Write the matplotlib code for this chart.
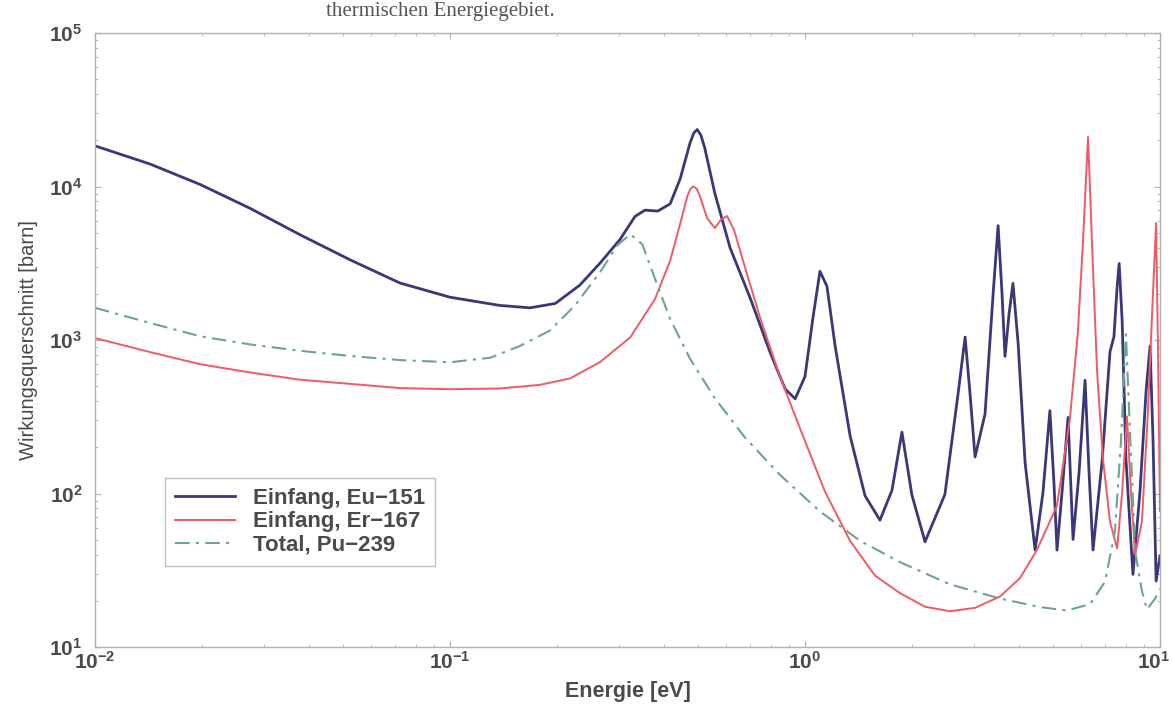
import matplotlib
matplotlib.use("Agg")
import matplotlib.pyplot as plt
from matplotlib.transforms import offset_copy

# Eu-151 capture cross section (barn) vs neutron energy (eV)
eu_energy = [0.0100, 0.0143, 0.0198, 0.0274, 0.0378, 0.0523, 0.0723, 0.100, 0.138, 0.168,
             0.198, 0.232, 0.265, 0.301, 0.332, 0.354, 0.385, 0.417, 0.445, 0.474,
             0.486, 0.497, 0.509, 0.522, 0.557, 0.615, 0.700, 0.797, 0.879, 0.938,
             1.000, 1.054, 1.102, 1.153, 1.216, 1.340, 1.476, 1.626, 1.758, 1.875,
             2.000, 2.178, 2.478, 2.698, 2.825, 2.917, 3.013, 3.215, 3.388, 3.499,
             3.589, 3.659, 3.758, 3.853, 3.984, 4.169, 4.448, 4.680, 4.896, 5.027,
             5.127, 5.297, 5.508, 5.689, 5.916, 6.150, 6.310, 6.476, 6.867, 7.230,
             7.417, 7.573, 7.673, 7.825, 8.017, 8.390, 8.782, 9.136, 9.375, 9.560,
             9.750, 10.0]
eu_sigma = [18400, 14000, 10300, 7190, 4850, 3330, 2350, 1900, 1680, 1620,
            1730, 2275, 3180, 4510, 6380, 7010, 6920, 7710, 11200, 19100,
            22300, 23500, 21600, 17800, 9060, 3990, 1890, 834, 480, 414,
            578, 1420, 2800, 2240, 912, 237, 96.8, 67, 105, 251,
            98, 48.5, 98.6, 444, 1045, 445, 173, 330, 2005, 5560,
            2010, 782, 1490, 2340, 953, 158, 42.8, 101, 346, 117,
            42.8, 102, 313, 50.2, 137, 547, 138, 42.8, 161, 838,
            1050, 2230, 3150, 1320, 169, 29.7, 103, 463, 912, 219,
            26.9, 39.2]

# Er-167 capture cross section
er_energy = [0.0100, 0.0143, 0.0198, 0.0274, 0.0378, 0.0523, 0.0723, 0.100, 0.138, 0.179,
             0.218, 0.265, 0.322, 0.378, 0.417, 0.445, 0.466, 0.475, 0.484, 0.495,
             0.506, 0.530, 0.557, 0.579, 0.603, 0.631, 0.678, 0.747, 0.851, 0.969,
             1.138, 1.340, 1.574, 1.853, 2.178, 2.560, 3.013, 3.540, 4.033, 4.505,
             5.127, 5.572, 5.870, 6.067, 6.270, 6.432, 6.650, 6.908, 7.230, 7.573,
             7.825, 8.071, 8.283, 8.511, 8.895, 9.247, 9.560, 9.750, 9.863, 10.0]
er_sigma = [1030, 834, 695, 614, 551, 518, 486, 478, 483, 510,
            562, 720, 1040, 1850, 3280, 5730, 8610, 9600, 10000, 9700,
            8630, 6210, 5360, 6050, 6430, 5220, 2960, 1400, 574, 264,
            103, 49.1, 29.2, 22.4, 18.3, 17.1, 18.0, 21.3, 28.1, 43.0,
            83.4, 304, 1120, 4340, 21000, 4350, 619, 168, 65.4, 43.8,
            103, 318, 103, 40.1, 65.9, 344, 2080, 5780, 985, 76.9]

# Pu-239 total cross section
pu_energy = [0.0100, 0.0143, 0.0198, 0.0274, 0.0378, 0.0523, 0.0723, 0.100, 0.130, 0.157,
             0.191, 0.225, 0.265, 0.297, 0.322, 0.348, 0.378, 0.417, 0.474, 0.557,
             0.678, 0.851, 1.102, 1.429, 1.853, 2.560, 3.540, 4.592, 5.470, 6.351,
             6.998, 7.464, 7.762, 8.017, 8.230, 8.511, 8.895, 9.183, 9.683, 10.0]
pu_sigma = [1620, 1290, 1057, 935, 851, 787, 740, 716, 767, 912,
            1150, 1680, 2780, 4180, 4880, 4210, 2500, 1370, 758, 418,
            231, 132, 76.4, 49.2, 35.7, 25.6, 20.7, 18.2, 17.3, 19.0,
            26.6, 56.4, 218, 1090, 254, 42, 23.1, 17.6, 20.6, 23.9]

x_ticks = [1e-2, 1e-1, 1e0, 1e1]
x_labels = [r"$\mathbf{10^{-2}}$", r"$\mathbf{10^{-1}}$", r"$\mathbf{10^{0}}$", r"$\mathbf{10^{1}}$"]
y_ticks = [1e1, 1e2, 1e3, 1e4, 1e5]
y_labels = [r"$\mathbf{10^{1}}$", r"$\mathbf{10^{2}}$", r"$\mathbf{10^{3}}$", r"$\mathbf{10^{4}}$", r"$\mathbf{10^{5}}$"]

plt.rcParams["font.family"] = ["Liberation Sans", "DejaVu Sans"]
plt.rcParams["mathtext.fontset"] = "custom"
plt.rcParams["mathtext.rm"] = "Liberation Sans"
plt.rcParams["mathtext.bf"] = "Liberation Sans:bold"

text_gray = "#4a4a4a"

fig = plt.figure(figsize=(11.72, 7.05), dpi=100)
ax = fig.add_axes([95 / 1172, 1 - 647 / 705, 1065 / 1172, 614 / 705])

ax.plot(eu_energy, eu_sigma, color="#3a3878", lw=2.0, solid_joinstyle="round",
        label="Einfang, Eu\u2212151")
ax.plot(er_energy, er_sigma, color="#f05a66", lw=1.4, solid_joinstyle="round",
        label="Einfang, Er\u2212167")
ax.plot(pu_energy, pu_sigma, color="#6aa58f", lw=1.5, linestyle=(0, (7, 3, 1.5, 3)),
        label="Total, Pu\u2212239")

ax.set_xscale("log")
ax.set_yscale("log")
ax.set_xlim(1e-2, 1e1)
ax.set_ylim(1e1, 1e5)

ax.set_xticks(x_ticks)
ax.set_xticklabels(x_labels)
ax.set_yticks(y_ticks)
ax.set_yticklabels(y_labels)
ax.tick_params(which="both", direction="in", top=True, right=True, color="#b0b0b0")
ax.tick_params(which="major", length=4, labelsize=15, labelcolor=text_gray)
ax.tick_params(axis="x", which="major", pad=3)
ax.tick_params(axis="y", which="major", pad=9)
ax.tick_params(which="minor", length=2.5)
for side in ax.spines.values():
    side.set_color("#b0b0b0")
    side.set_linewidth(1.0)

# keep the rightmost energy label inside the figure
last = ax.get_xticklabels()[-1]
last.set_ha("right")
last.set_transform(offset_copy(last.get_transform(), fig=fig, x=10, units="dots"))

ax.set_xlabel("Energie [eV]", fontsize=15.5, fontweight="bold", color=text_gray, labelpad=6)
ax.set_ylabel("Wirkungsquerschnitt [barn]", fontsize=14.5, color=text_gray, labelpad=8)

leg = ax.legend(loc="upper left", bbox_to_anchor=(0.066, 0.275), fontsize=16,
                handlelength=2.7, handletextpad=0.8, labelspacing=0.1,
                borderpad=0.45, borderaxespad=0, fancybox=False, framealpha=1)
leg.get_frame().set_edgecolor("#c0c0c0")
leg.get_frame().set_linewidth(1.0)
for t in leg.get_texts():
    t.set_fontweight("bold")
    t.set_color(text_gray)

# caption line of the surrounding page
fig.text(555 / 1172, 1 - 16 / 705, "thermischen Energiegebiet.", ha="right", va="baseline",
         fontsize=15, family="Liberation Serif", color="#555555")

fig.savefig("out.png", dpi=100)
